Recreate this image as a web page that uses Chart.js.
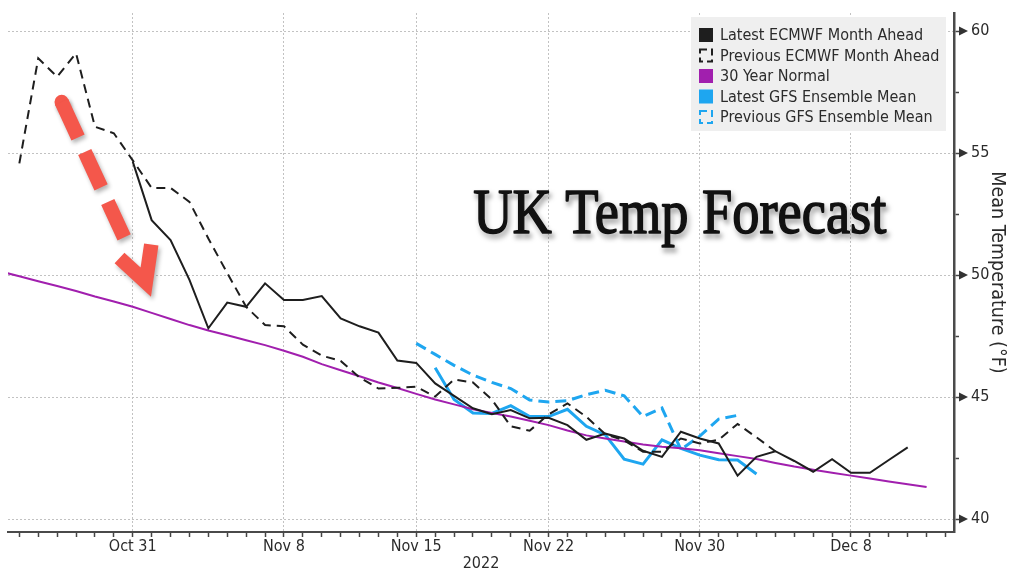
<!DOCTYPE html>
<html><head><meta charset="utf-8">
<script src="https://cdn.jsdelivr.net/npm/chart.js@4/dist/chart.umd.min.js"></script>
<style>html,body{margin:0;padding:0;background:#fff;overflow:hidden}canvas{display:block}</style>
</head><body>
<canvas id="c" width="1009" height="569"></canvas>
<script>
// ---- categories (one per day) ----
const categories = [
  'Oct 24','Oct 25','Oct 26','Oct 27','Oct 28','Oct 29','Oct 30','Oct 31',
  'Nov 1','Nov 2','Nov 3','Nov 4','Nov 5','Nov 6','Nov 7','Nov 8','Nov 9','Nov 10',
  'Nov 11','Nov 12','Nov 13','Nov 14','Nov 15','Nov 16','Nov 17','Nov 18','Nov 19','Nov 20',
  'Nov 21','Nov 22','Nov 23','Nov 24','Nov 25','Nov 26','Nov 27','Nov 28','Nov 29','Nov 30',
  'Dec 1','Dec 2','Dec 3','Dec 4','Dec 5','Dec 6','Dec 7','Dec 8','Dec 9','Dec 10',
  'Dec 11','Dec 12','Dec 13'
];
const xTickLabels = ['Oct 31','Nov 8','Nov 15','Nov 22','Nov 30','Dec 8'];
const yTickLabels = [40, 45, 50, 55, 60];
const yMinorTicks = [42.5, 47.5, 52.5, 57.5];

// ---- series (first category + daily values) ----
const latestEcmwfStart = 'Oct 31';
const latestEcmwf = [54.65, 52.25, 51.43, 49.8, 47.82, 48.87, 48.7, 49.66, 48.98, 48.98,
  49.14, 48.22, 47.9, 47.64, 46.5, 46.4, 45.56, 45.05, 44.54, 44.3,
  44.47, 44.13, 44.15, 43.85, 43.25, 43.5, 43.3, 42.8, 42.55, 43.58,
  43.3, 43.1, 41.78, 42.55, 42.78, 42.38, 41.94, 42.45, 41.9, 41.9,
  42.42, 42.94];

const prevEcmwfStart = 'Oct 25';
const prevEcmwf = [54.58, 58.88, 58.13, 59.09, 56.08, 55.81, 54.7, 53.57, 53.57, 53.0,
  51.5, 50.08, 48.7, 47.95, 47.9, 47.15, 46.7, 46.48, 45.8, 45.35,
  45.38, 45.42, 45.02, 45.72, 45.6, 44.9, 43.8, 43.62, 44.29, 44.74,
  44.19, 43.48, 43.22, 42.76, 42.76, 43.3, 43.1, 43.25, 43.9, 43.35,
  42.78];

const normalStart = 'Oct 24';
const normal30 = [50.15, 49.95, 49.75, 49.55, 49.35, 49.12, 48.92,
  48.7, 48.45, 48.2, 47.95, 47.73, 47.53, 47.33, 47.13, 46.9, 46.65,
  46.35, 46.1, 45.85, 45.6, 45.37, 45.13, 44.9, 44.7, 44.5, 44.35,
  44.2, 44.03, 43.85, 43.63, 43.43, 43.3, 43.18, 43.06, 42.96, 42.9,
  42.82, 42.7, 42.58, 42.46, 42.3, 42.15, 42.02, 41.9, 41.78, 41.66,
  41.54, 41.43, 41.31];

const latestGfsStart = 'Nov 16';
const latestGfs = [46.2, 44.9, 44.35, 44.33, 44.65, 44.2, 44.2, 44.5, 43.8, 43.45,
  42.45, 42.25, 43.25, 42.9, 42.62, 42.43, 42.42, 41.85];

const prevGfsStart = 'Nov 15';
const prevGfs = [47.2, 46.75, 46.3, 45.9, 45.6, 45.35, 44.88, 44.8, 44.85, 45.1,
  45.28, 45.05, 44.2, 44.55, 42.85, 43.4, 44.1, 44.25];

// ---- build ----
const FONT = "'DejaVu Sans Condensed', 'DejaVu Sans', sans-serif";
const TEXT = '#2b2b2b';
const labelIdx = xTickLabels.map(l => categories.indexOf(l));
function series(start, vals) {
  const s = categories.indexOf(start);
  return vals.map((v, i) => ({ x: s + i, y: v }));
}
const BLACK = '#1e1e1e', PURPLE = '#a11fae', BLUE = '#1ea6f0';

const datasets = [
  { label: 'Latest ECMWF Month Ahead', data: series(latestEcmwfStart, latestEcmwf),
    borderColor: BLACK, borderWidth: 2, swatch: 'fill' },
  { label: 'Previous ECMWF Month Ahead', data: series(prevEcmwfStart, prevEcmwf),
    borderColor: BLACK, borderWidth: 2, borderDash: [9, 6], swatch: 'dash' },
  { label: '30 Year Normal', data: series(normalStart, normal30),
    borderColor: PURPLE, borderWidth: 2, swatch: 'fill' },
  { label: 'Latest GFS Ensemble Mean', data: series(latestGfsStart, latestGfs),
    borderColor: BLUE, borderWidth: 3, swatch: 'fill' },
  { label: 'Previous GFS Ensemble Mean', data: series(prevGfsStart, prevGfs),
    borderColor: BLUE, borderWidth: 3, borderDash: [11, 6], swatch: 'dash' }
];
datasets.forEach(d => { d.pointRadius = 0; d.fill = false; d.tension = 0; d.backgroundColor = d.borderColor; });

// annotation anchors, in axis units (category index, °F)
const titleAnchor = { x: 35.94, y: 51.72 };
const arrowStart = { x: 3.24, y: 57.09 };
const arrowTip = { x: 8.0, y: 49.1 };
const arrowHead = [{ x: 6.3, y: 50.7 }, { x: 7.69, y: 49.71 }, { x: 7.98, y: 51.25 }];

const overlay = {
  id: 'overlay',
  afterDatasetsDraw(chart) {
    const { ctx, chartArea: ca, scales: { x, y } } = chart;
    const P = p => [x.getPixelForValue(p.x), y.getPixelForValue(p.y)];

    // y-axis arrow markers on labelled ticks
    ctx.save();
    ctx.fillStyle = '#333';
    yTickLabels.forEach(v => {
      const py = y.getPixelForValue(v), ax = y.left;
      ctx.beginPath();
      ctx.moveTo(ax + 5, py - 4.5);
      ctx.lineTo(ax + 14, py);
      ctx.lineTo(ax + 5, py + 4.5);
      ctx.closePath();
      ctx.fill();
    });
    ctx.restore();

    // big title
    ctx.save();
    const [tx, ty] = P(titleAnchor);
    ctx.translate(tx, ty);
    ctx.scale(0.85, 1);
    ctx.font = "64px 'Liberation Serif', 'Times New Roman', serif";
    ctx.textAlign = 'center';
    ctx.textBaseline = 'alphabetic';
    ctx.shadowColor = 'rgba(0,0,0,0.6)';
    ctx.shadowBlur = 5; ctx.shadowOffsetX = 2; ctx.shadowOffsetY = 4;
    ctx.fillStyle = '#111';
    ctx.strokeStyle = '#111';
    ctx.lineWidth = 1.6;
    ctx.lineJoin = 'round';
    ctx.strokeText('UK Temp Forecast', 0, 0);
    ctx.shadowColor = 'rgba(0,0,0,0)';
    ctx.fillText('UK Temp Forecast', 0, 0);
    ctx.restore();

    // red dashed arrow annotation
    ctx.save();
    const [sx, sy] = P(arrowStart);
    const [ex, ey] = P(arrowTip);
    const len = Math.hypot(ex - sx, ey - sy);
    const ux = (ex - sx) / len, uy = (ey - sy) / len;
    ctx.strokeStyle = '#f4574b';
    ctx.fillStyle = '#f4574b';
    ctx.lineWidth = 14.5;
    ctx.shadowColor = 'rgba(0,0,0,0.3)';
    ctx.shadowBlur = 4; ctx.shadowOffsetX = 2; ctx.shadowOffsetY = 3;
    ctx.beginPath();
    ctx.arc(sx, sy, 7.2, 0, Math.PI * 2);
    ctx.fill();
    ctx.setLineDash([39, 16]);
    ctx.lineCap = 'butt';
    ctx.beginPath();
    ctx.moveTo(sx, sy);
    ctx.lineTo(sx + ux * 149, sy + uy * 149);
    ctx.stroke();
    ctx.setLineDash([]);
    ctx.lineJoin = 'miter';
    ctx.beginPath();
    arrowHead.forEach((p, i) => { const [hx, hy] = P(p); if (i) ctx.lineTo(hx, hy); else ctx.moveTo(hx, hy); });
    ctx.stroke();
    ctx.restore();

    // legend box
    ctx.save();
    const bw = 255, bh = 114;
    const bx = ca.right - 8 - bw, by = ca.top + 4;
    ctx.fillStyle = '#efefef';
    ctx.fillRect(bx, by, bw, bh);
    ctx.font = '16px ' + FONT;
    ctx.textBaseline = 'middle';
    ctx.textAlign = 'left';
    chart.data.datasets.forEach((d, i) => {
      const cy = by + 18 + i * 20.5;
      if (d.swatch === 'fill') {
        ctx.fillStyle = d.borderColor;
        ctx.fillRect(bx + 8, cy - 7, 14, 14);
      } else {
        ctx.strokeStyle = d.borderColor;
        ctx.lineWidth = 2;
        ctx.setLineDash([7, 4]);
        ctx.strokeRect(bx + 9, cy - 6, 12, 12);
        ctx.setLineDash([]);
      }
      ctx.fillStyle = TEXT;
      ctx.fillText(d.label, bx + 29, cy + 1);
    });
    ctx.restore();
  }
};

new Chart(document.getElementById('c'), {
  type: 'line',
  data: { datasets },
  plugins: [overlay],
  options: {
    responsive: false,
    animation: false,
    events: [],
    layout: { padding: { left: 8, top: 13, right: 0, bottom: 0 } },
    plugins: { legend: { display: false }, tooltip: { enabled: false } },
    scales: {
      x: {
        type: 'linear', min: 0.4, max: 50.45,
        afterBuildTicks: s => {
          const t = [];
          for (let i = 1; i < categories.length; i++) t.push({ value: i });
          s.ticks = t;
        },
        ticks: {
          autoSkip: false, maxRotation: 0, minRotation: 0, padding: 0,
          color: TEXT, font: { family: FONT, size: 16 },
          callback: v => { const k = labelIdx.indexOf(v); return k >= 0 ? xTickLabels[k] : ''; }
        },
        grid: {
          color: c => (c.tick && labelIdx.includes(c.tick.value)) ? '#c2c2c2' : 'rgba(0,0,0,0)',
          lineWidth: 1, drawTicks: true, tickLength: 5, tickColor: '#444', tickWidth: 1.5
        },
        border: { display: true, color: '#4a4a4a', width: 2, dash: [2, 2] },
        title: { display: true, text: '2022', color: TEXT, padding: { top: 0, bottom: -3 },
          font: { family: FONT, size: 16, lineHeight: 1 } },
        afterFit: s => { s.height = 37; s.paddingLeft = 0; s.paddingRight = 0; }
      },
      y: {
        position: 'right', min: 39.47, max: 60.74,
        afterBuildTicks: s => {
          s.ticks = yTickLabels.concat(yMinorTicks).sort((a, b) => a - b).map(v => ({ value: v }));
        },
        ticks: {
          padding: 12, color: TEXT, font: { family: FONT, size: 16 },
          callback: v => yTickLabels.includes(v) ? String(v) : ''
        },
        grid: {
          color: c => (c.tick && yTickLabels.includes(c.tick.value)) ? '#c2c2c2' : 'rgba(0,0,0,0)',
          lineWidth: 1, tickLength: 5, tickColor: '#444', tickWidth: 1.5
        },
        border: { display: true, color: '#4a4a4a', width: 2.5, dash: [2, 2] },
        title: { display: true, text: 'Mean Temperature (°F)', color: TEXT, padding: 0,
          font: { family: FONT, size: 19.5, lineHeight: 1.2 } },
        afterFit: s => { s.width = 55; s.paddingTop = 0; s.paddingBottom = 0; }
      }
    }
  }
});
</script>
</body></html>
